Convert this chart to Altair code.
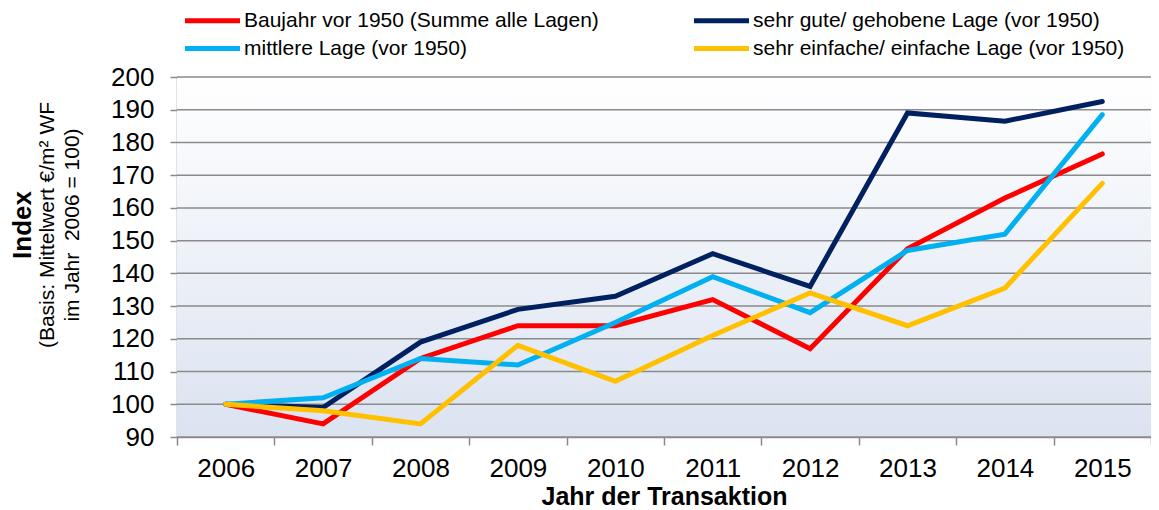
import altair as alt
import pandas as pd

FONT = "Liberation Sans"

years = ["2006", "2007", "2008", "2009", "2010", "2011", "2012", "2013", "2014", "2015"]
series_names = [
    "Baujahr vor 1950 (Summe alle Lagen)",
    "sehr gute/ gehobene Lage (vor 1950)",
    "mittlere Lage (vor 1950)",
    "sehr einfache/ einfache Lage (vor 1950)",
]
baujahr = [100, 94, 114, 124, 124, 132, 117, 147.5, 163, 176.5]
gehoben = [100, 99, 119, 129, 133, 146, 136, 189, 186.5, 192.5]
mittlere = [100, 102, 114, 112, 125, 139, 128, 147, 152, 188.5]
einfach = [100, 98, 94, 118, 107, 121, 134, 124, 135.5, 167.5]
colors = ["#ff0000", "#002060", "#00b0f0", "#ffc000"]
y_ticks = list(range(90, 201, 10))

# legend fills column by column: column 1 = red, light blue; column 2 = navy, yellow
legend_order = [series_names[0], series_names[2], series_names[1], series_names[3]]
legend_colors = [colors[0], colors[2], colors[1], colors[3]]

rows = []
for name, vals in zip(series_names, [baujahr, gehoben, mittlere, einfach]):
    for yr, v in zip(years, vals):
        rows.append({"year": yr, "value": v, "series": name})
df = pd.DataFrame(rows)
grid_df = pd.DataFrame({"value": y_ticks})

GRID = "#8a8a8a"

y_enc = alt.Y(
    "value:Q",
    scale=alt.Scale(domain=[90, 200], nice=False, zero=False),
    axis=alt.Axis(
        values=y_ticks, title=None, grid=False, labelFontSize=26, labelFont=FONT,
        labelColor="black", tickSize=7, tickColor=GRID, tickWidth=1.5,
        domainColor=GRID, domainWidth=1.5, labelPadding=16,
    ),
)

bg = alt.Chart(alt.InlineData(values=[{}])).mark_rect(
    color=alt.LinearGradient(
        gradient="linear",
        stops=[alt.GradientStop(color="#ffffff", offset=0),
               alt.GradientStop(color="#dbe3f1", offset=1)],
        x1=0, x2=0, y1=0, y2=1,
    )
).encode(x=alt.value(0), x2=alt.value("width"), y=alt.value(0), y2=alt.value("height"))

grid = alt.Chart(grid_df).mark_rule(color=GRID, strokeWidth=1.5).encode(y=y_enc)

lines = alt.Chart(df).mark_line(strokeWidth=5, strokeCap="round").encode(
    x=alt.X(
        "year:O",
        scale=alt.Scale(type="band", paddingInner=0, paddingOuter=0),
        sort=years,
        axis=alt.Axis(
            title="Jahr der Transaktion", titleFontSize=25, titleFont=FONT,
            titleFontWeight="bold", titleColor="black", titleY=67,
            titleBaseline="alphabetic", labelAngle=0, labelFontSize=26,
            labelFont=FONT, labelColor="black", tickBand="extent", tickSize=8,
            tickColor=GRID, tickWidth=1.5, domainColor=GRID, domainWidth=1.5,
            labelPadding=10, grid=False,
        ),
    ),
    y=y_enc,
    color=alt.Color(
        "series:N",
        scale=alt.Scale(domain=legend_order, range=legend_colors),
        legend=alt.Legend(
            orient="none", legendX=22, legendY=-70, columns=2, title=None,
            symbolType="M-2.5,0H2.5", symbolSize=484, symbolStrokeWidth=5,
            symbolOffset=0, labelOffset=18,
            labelFontSize=21, labelFont=FONT, labelColor="black", labelLimit=700,
            columnPadding=85, rowPadding=4, padding=0,
        ),
    ),
    order=alt.Order("year:O"),
)


def ytext(txt, x, size, weight):
    return alt.Chart(alt.InlineData(values=[{}])).mark_text(
        text=txt, angle=270, fontSize=size, fontWeight=weight, font=FONT,
        align="center", baseline="middle", color="black",
    ).encode(x=alt.value(x), y=alt.value(148))


chart = alt.layer(
    bg, grid, lines,
    ytext("Index", -154, 26, "bold"),
    ytext("(Basis: Mittelwert €/m² WF", -129, 21, "normal"),
    ytext("im Jahr\u00a0 2006 = 100)", -104, 21, "normal"),
).properties(
    width=974, height=360,
    autosize=alt.AutoSizeParams(type="none"),
    padding={"left": 169, "top": 69, "right": 0, "bottom": 71},
).configure_view(stroke=None).configure(font=FONT)

chart.save("out.html", embed_options={"renderer": "svg", "actions": False})
